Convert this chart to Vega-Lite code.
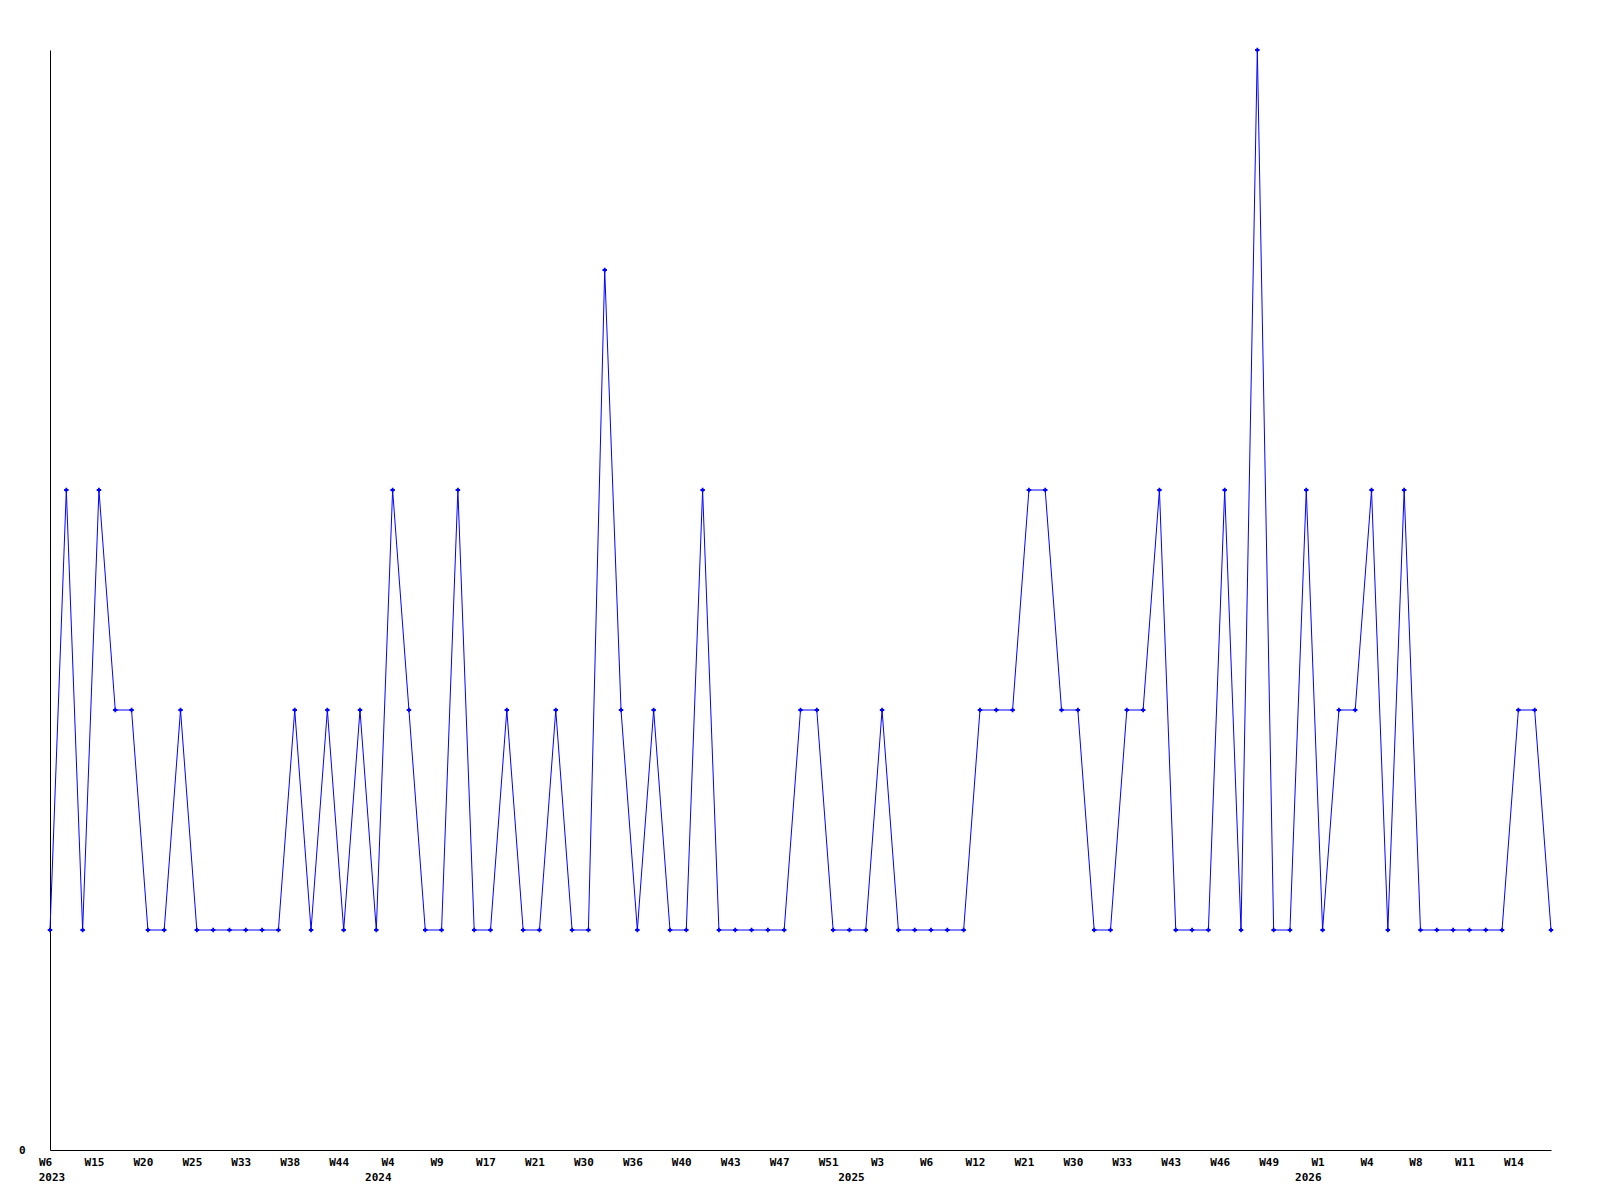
{
  "$schema": "https://vega.github.io/schema/vega-lite/v6.json",
  "autosize": {"type": "none"},
  "padding": {"left": 50, "top": 50, "right": 49, "bottom": 50},
  "width": 1501,
  "height": 1100,
  "background": "#ffffff",
  "config": {"view": {"stroke": null}},
  "data": {"values": [
    {"week": "2023-W06", "count": 1}, {"week": "2023-W09", "count": 3}, {"week": "2023-W12", "count": 1},
    {"week": "2023-W15", "count": 3}, {"week": "2023-W17", "count": 2}, {"week": "2023-W18", "count": 2},
    {"week": "2023-W20", "count": 1}, {"week": "2023-W22", "count": 1}, {"week": "2023-W23", "count": 2},
    {"week": "2023-W25", "count": 1}, {"week": "2023-W27", "count": 1}, {"week": "2023-W30", "count": 1},
    {"week": "2023-W33", "count": 1}, {"week": "2023-W35", "count": 1}, {"week": "2023-W36", "count": 1},
    {"week": "2023-W38", "count": 2}, {"week": "2023-W40", "count": 1}, {"week": "2023-W42", "count": 2},
    {"week": "2023-W44", "count": 1}, {"week": "2023-W48", "count": 2}, {"week": "2024-W02", "count": 1},
    {"week": "2024-W04", "count": 3}, {"week": "2024-W06", "count": 2}, {"week": "2024-W08", "count": 1},
    {"week": "2024-W09", "count": 1}, {"week": "2024-W12", "count": 3}, {"week": "2024-W14", "count": 1},
    {"week": "2024-W17", "count": 1}, {"week": "2024-W18", "count": 2}, {"week": "2024-W20", "count": 1},
    {"week": "2024-W21", "count": 1}, {"week": "2024-W24", "count": 2}, {"week": "2024-W27", "count": 1},
    {"week": "2024-W30", "count": 1}, {"week": "2024-W32", "count": 4}, {"week": "2024-W34", "count": 2},
    {"week": "2024-W36", "count": 1}, {"week": "2024-W37", "count": 2}, {"week": "2024-W39", "count": 1},
    {"week": "2024-W40", "count": 1}, {"week": "2024-W41", "count": 3}, {"week": "2024-W42", "count": 1},
    {"week": "2024-W43", "count": 1}, {"week": "2024-W44", "count": 1}, {"week": "2024-W46", "count": 1},
    {"week": "2024-W47", "count": 1}, {"week": "2024-W48", "count": 2}, {"week": "2024-W50", "count": 2},
    {"week": "2024-W51", "count": 1}, {"week": "2025-W01", "count": 1}, {"week": "2025-W02", "count": 1},
    {"week": "2025-W03", "count": 2}, {"week": "2025-W04", "count": 1}, {"week": "2025-W05", "count": 1},
    {"week": "2025-W06", "count": 1}, {"week": "2025-W08", "count": 1}, {"week": "2025-W10", "count": 1},
    {"week": "2025-W12", "count": 2}, {"week": "2025-W14", "count": 2}, {"week": "2025-W18", "count": 2},
    {"week": "2025-W21", "count": 3}, {"week": "2025-W24", "count": 3}, {"week": "2025-W27", "count": 2},
    {"week": "2025-W30", "count": 2}, {"week": "2025-W31", "count": 1}, {"week": "2025-W32", "count": 1},
    {"week": "2025-W33", "count": 2}, {"week": "2025-W36", "count": 2}, {"week": "2025-W40", "count": 3},
    {"week": "2025-W43", "count": 1}, {"week": "2025-W44", "count": 1}, {"week": "2025-W45", "count": 1},
    {"week": "2025-W46", "count": 3}, {"week": "2025-W47", "count": 1}, {"week": "2025-W48", "count": 5},
    {"week": "2025-W49", "count": 1}, {"week": "2025-W50", "count": 1}, {"week": "2025-W51", "count": 3},
    {"week": "2026-W01", "count": 1}, {"week": "2026-W02", "count": 2}, {"week": "2026-W03", "count": 2},
    {"week": "2026-W04", "count": 3}, {"week": "2026-W06", "count": 1}, {"week": "2026-W07", "count": 3},
    {"week": "2026-W08", "count": 1}, {"week": "2026-W09", "count": 1}, {"week": "2026-W10", "count": 1},
    {"week": "2026-W11", "count": 1}, {"week": "2026-W12", "count": 1}, {"week": "2026-W13", "count": 1},
    {"week": "2026-W14", "count": 2}, {"week": "2026-W15", "count": 2}, {"week": "2026-W16", "count": 1}
  ]},
  "layer": [
    {
      "mark": {"type": "line", "color": "#0000ff", "strokeWidth": 1},
      "encoding": {
        "x": {
          "field": "week",
          "type": "ordinal",
          "sort": null,
          "scale": {"type": "point", "padding": 0},
          "axis": {
            "title": null,
            "orient": "bottom",
            "ticks": false,
            "grid": false,
            "domainColor": "#000000",
            "domainWidth": 1,
            "labelAngle": 0,
            "labelAlign": "center",
            "labelFont": "DejaVu Sans Mono",
            "labelFontWeight": "bold",
            "labelFontSize": 11,
            "labelColor": "#000000",
            "labelPadding": 6,
            "labelOverlap": false,
            "labelFlush": false,
            "labelOffset": -5,
            "labelExpr": "round(datum.index*92) % 3 == 0 ? 'W' + toNumber(slice(datum.value,6)) : ''"
          }
        },
        "y": {
          "field": "count",
          "type": "quantitative",
          "scale": {"domain": [0, 5], "nice": false, "zero": true},
          "axis": {
            "title": null,
            "values": [0],
            "format": "d",
            "ticks": false,
            "grid": false,
            "domainColor": "#000000",
            "domainWidth": 1,
            "labelFont": "DejaVu Sans Mono",
            "labelFontWeight": "bold",
            "labelFontSize": 11,
            "labelColor": "#000000",
            "labelPadding": 25
          }
        }
      }
    },
    {
      "mark": {"type": "point", "shape": "cross", "size": 20, "filled": true, "color": "#0000ff", "opacity": 1},
      "encoding": {
        "x": {
          "field": "week",
          "type": "ordinal",
          "sort": null,
          "scale": {"type": "point", "padding": 0},
          "axis": {
            "title": null,
            "orient": "bottom",
            "domain": false,
            "ticks": false,
            "grid": false,
            "labelAngle": 0,
            "labelAlign": "center",
            "labelFont": "DejaVu Sans Mono",
            "labelFontWeight": "bold",
            "labelFontSize": 11,
            "labelColor": "#000000",
            "labelPadding": 21.5,
            "labelOverlap": false,
            "labelFlush": false,
            "labelOffset": 1.5,
            "labelExpr": "round(datum.index*92) == 0 ? '2023' : round(datum.index*92) == 20 ? '2024' : round(datum.index*92) == 49 ? '2025' : round(datum.index*92) == 77 ? '2026' : ''"
          }
        },
        "y": {
          "field": "count",
          "type": "quantitative",
          "scale": {"domain": [0, 5], "nice": false, "zero": true},
          "axis": {
            "title": null,
            "values": [0],
            "format": "d",
            "ticks": false,
            "grid": false,
            "domainColor": "#000000",
            "domainWidth": 1,
            "labelFont": "DejaVu Sans Mono",
            "labelFontWeight": "bold",
            "labelFontSize": 11,
            "labelColor": "#000000",
            "labelPadding": 25
          }
        }
      }
    }
  ],
  "resolve": {"axis": {"x": "independent"}}
}
